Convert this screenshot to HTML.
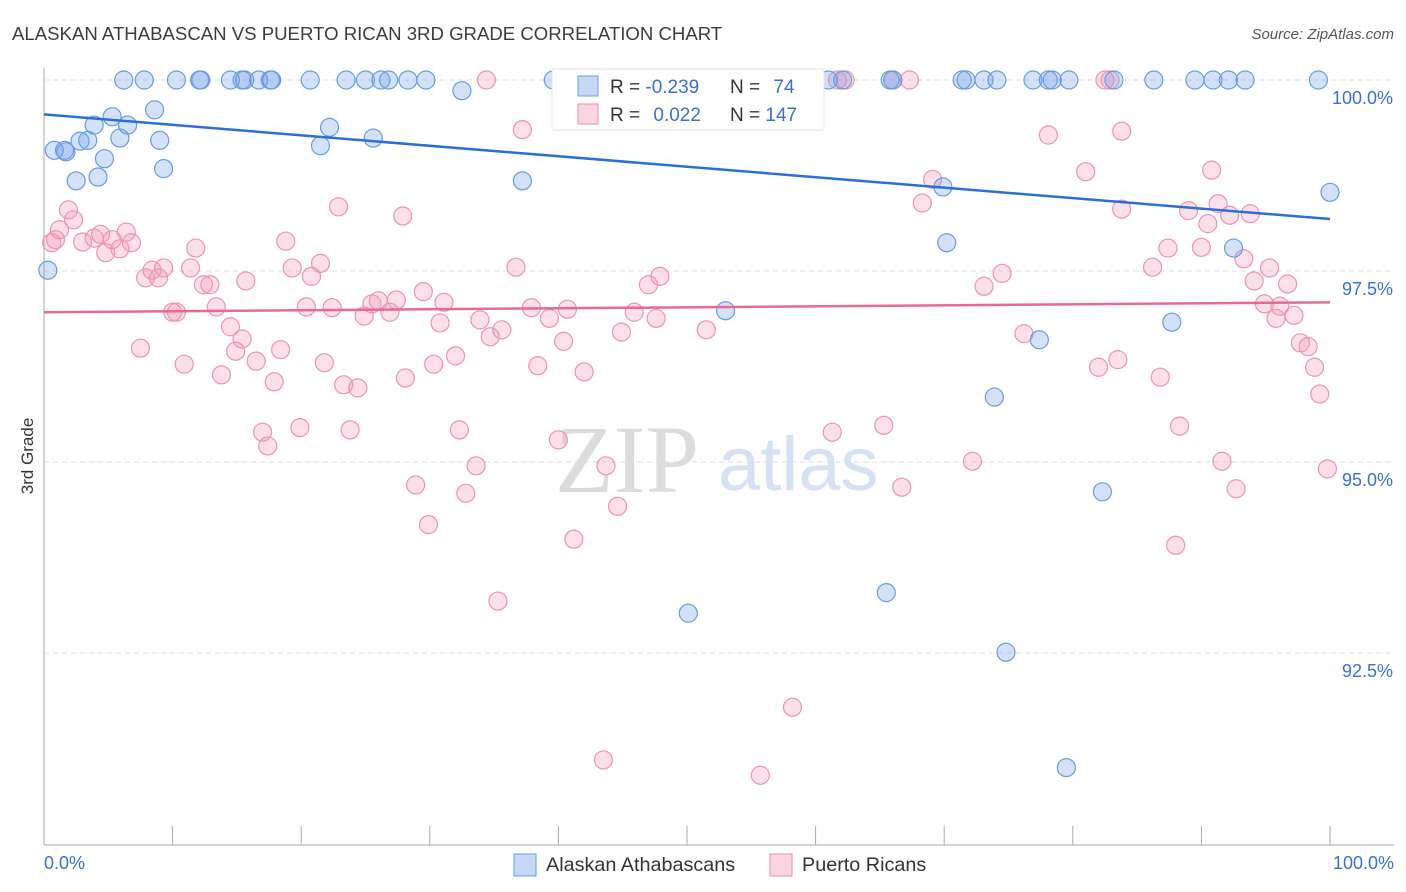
<!DOCTYPE html>
<html><head><meta charset="utf-8"><style>
html,body{margin:0;padding:0;background:#fff;}
svg{display:block;font-family:"Liberation Sans",sans-serif;}
</style></head><body>
<svg id="chart" width="1406" height="892" viewBox="0 0 1406 892">
<text x="12" y="40" font-size="18.6" fill="#3c3c3c">ALASKAN ATHABASCAN VS PUERTO RICAN 3RD GRADE CORRELATION CHART</text>
<text x="1394" y="39" font-size="15" fill="#555" font-style="italic" text-anchor="end">Source: ZipAtlas.com</text>
<text x="33" y="456" font-size="17" fill="#333" text-anchor="middle" transform="rotate(-90 33 456)">3rd Grade</text>
<g>
<text x="555" y="492" font-size="96" font-family="Liberation Serif,serif" fill="#dcdcdc">ZIP</text>
<text x="718" y="490" font-size="76" fill="#d6e2f3">atlas</text>
</g>
<g id="grid"></g>
<g id="axes"></g>
<g id="pts"></g>
<g id="trends"></g>
<g>
<rect x="552" y="69" width="272" height="61" rx="2" fill="#fff" stroke="#e2e2e2"/>
<rect x="578" y="76" width="20" height="20" fill="rgba(110,160,235,0.4)" stroke="#6a9be0"/>
<rect x="578" y="104" width="20" height="20" fill="rgba(245,150,180,0.4)" stroke="#e890b0"/>
<text x="610" y="93" font-size="19" fill="#333">R = <tspan fill="#3a6fd8">-0.239</tspan></text>
<text x="730" y="93" font-size="19" fill="#333">N = <tspan fill="#3a6fd8" dx="8">74</tspan></text>
<text x="610" y="121" font-size="19" fill="#333">R = <tspan fill="#3a6fd8" dx="8">0.022</tspan></text>
<text x="730" y="121" font-size="19" fill="#333">N = <tspan fill="#3a6fd8">147</tspan></text>
</g>
<g>
<rect x="514" y="854" width="22" height="22" fill="rgba(110,160,235,0.4)" stroke="#6a9be0"/>
<text x="546" y="871" font-size="19.8" fill="#333">Alaskan Athabascans</text>
<rect x="770" y="854" width="22" height="22" fill="rgba(245,150,180,0.4)" stroke="#e890b0"/>
<text x="802" y="871" font-size="19.8" fill="#333">Puerto Ricans</text>
</g>
</svg>
<script>
const yTicks=[100,97.5,95,92.5];
const yTickLabels=["100.0%","97.5%","95.0%","92.5%"];
const xTickVals=[0,10,20,30,40,50,60,70,80,90,100];
const xEndLabels=["0.0%","100.0%"];
const blueTopX=[6.2,7.8,10.3,12.1,12.2,14.5,15.4,15.6,16.7,17.6,17.7,20.7,23.5,25.0,26.2,26.8,28.3,29.7,39.6,41.2,48.4,61.0,62.1,65.8,66.0,71.4,71.7,73.1,74.1,76.9,78.1,78.4,79.7,83.2,86.3,89.5,90.9,92.1,93.4,99.1];
const blueOther=[[32.5,99.86],[8.6,99.61],[5.3,99.52],[3.9,99.41],[6.5,99.41],[22.2,99.38],[0.8,99.08],[1.7,99.06],[1.6,99.08],[2.8,99.2],[3.4,99.21],[5.9,99.24],[9.0,99.21],[4.7,98.97],[21.5,99.14],[25.6,99.24],[9.3,98.84],[4.2,98.73],[2.5,98.68],[37.2,98.68],[69.9,98.6],[100,98.53],[70.2,97.87],[92.5,97.8],[0.3,97.51],[53.0,96.98],[87.7,96.83],[77.4,96.6],[73.9,95.85],[82.3,94.61],[50.1,93.02],[65.5,93.29],[74.8,92.51],[79.5,91.0]];
const pinkTopX=[34.4,44.3,48.9,53.6,59.7,61.7,62.3,66.0,67.3,82.5,82.9];
const pinkOther=[[46.4,99.73],[37.2,99.35],[78.1,99.28],[83.8,99.33],[81.0,98.8],[90.8,98.82],[69.1,98.7],[68.3,98.39],[22.9,98.34],[27.9,98.22],[83.8,98.31],[89.0,98.29],[91.3,98.38],[92.2,98.23],[93.8,98.25],[90.5,98.12],[1.9,98.3],[2.3,98.17],[1.2,98.04],[0.6,97.87],[0.9,97.91],[3.0,97.88],[3.9,97.93],[4.4,97.98],[5.3,97.91],[5.9,97.79],[4.8,97.74],[6.4,98.01],[6.8,97.87],[11.8,97.8],[18.8,97.89],[8.4,97.51],[9.3,97.54],[11.4,97.54],[7.9,97.41],[8.9,97.41],[12.4,97.32],[12.9,97.32],[15.7,97.37],[19.3,97.54],[20.8,97.43],[21.5,97.6],[10.0,96.96],[10.3,96.96],[13.4,97.03],[20.4,97.03],[22.4,97.02],[24.9,96.91],[25.5,97.07],[26.0,97.11],[26.9,96.96],[27.4,97.12],[29.5,97.23],[31.1,97.09],[30.8,96.82],[33.9,96.86],[34.7,96.64],[35.6,96.73],[36.7,97.55],[37.9,97.02],[39.3,96.88],[40.7,97.0],[40.4,96.58],[42.0,96.18],[45.9,96.96],[47.0,97.32],[47.9,97.43],[47.6,96.88],[44.9,96.7],[51.5,96.73],[14.5,96.77],[15.4,96.61],[14.9,96.45],[18.4,96.47],[7.5,96.49],[10.9,96.28],[13.8,96.14],[16.5,96.32],[17.9,96.05],[21.8,96.3],[23.3,96.01],[24.4,95.97],[28.1,96.1],[30.3,96.28],[32.0,96.39],[38.4,96.26],[17.0,95.39],[17.4,95.21],[19.9,95.45],[23.8,95.42],[32.3,95.42],[40.0,95.29],[33.6,94.95],[28.9,94.7],[32.8,94.59],[43.7,94.95],[44.6,94.42],[29.9,94.18],[41.2,93.99],[35.3,93.18],[43.5,91.1],[55.7,90.9],[58.2,91.79],[61.3,95.39],[65.3,95.48],[66.7,94.67],[72.2,95.01],[74.5,97.47],[73.1,97.3],[76.2,96.68],[82.0,96.24],[83.5,96.34],[86.8,96.11],[88.3,95.47],[91.6,95.01],[92.7,94.65],[88.0,93.91],[86.2,97.55],[87.4,97.8],[90.0,97.81],[93.3,97.66],[94.1,97.37],[95.3,97.54],[94.9,97.07],[96.1,97.04],[95.8,96.88],[96.7,97.33],[97.2,96.92],[97.7,96.56],[98.3,96.51],[98.8,96.24],[99.2,95.89],[99.8,94.91]];
const blueTrend=[99.55,98.18];
const pinkTrend=[96.96,97.09];

const NS="http://www.w3.org/2000/svg";
const X0=44,X1=1330,Y100=80,PX_PER=76.4;
function sx(v){return X0+(v/100)*(X1-X0);}
function sy(v){return Y100+(100-v)*PX_PER;}
function mk(tag,attrs,parent){const e=document.createElementNS(NS,tag);for(const k in attrs)e.setAttribute(k,attrs[k]);parent.appendChild(e);return e;}
const grid=document.getElementById('grid'),axes=document.getElementById('axes'),pts=document.getElementById('pts'),tr=document.getElementById('trends');
yTicks.forEach((t,i)=>{
  const l=mk('line',{x1:X0,x2:1394,y1:sy(t),y2:sy(t),stroke:'#ddd','stroke-dasharray':'5,4'},grid);
  
  
  const tx=mk('text',{x:1393,y:sy(t)+24,'font-size':18,fill:'#3a6fd8','text-anchor':'end'},axes);
  tx.textContent=yTickLabels[i];
  
  
});
const va=mk('line',{x1:X0,x2:X0,y1:68,y2:845,stroke:'#aaa'},axes);


const ha=mk('line',{x1:X0,x2:1394,y1:845,y2:845,stroke:'#aaa'},axes);


xTickVals.forEach(v=>{
  const t=mk('line',{x1:sx(v),x2:sx(v),y1:826,y2:845,stroke:'#aaa'},axes);
  
  
});
const xl0=mk('text',{x:44,y:869,'font-size':18,fill:'#3a6fd8'},axes);xl0.textContent=xEndLabels[0];


const xl1=mk('text',{x:1394,y:869,'font-size':18,fill:'#3a6fd8','text-anchor':'end'},axes);xl1.textContent=xEndLabels[1];


function dot(x,y,cls){
  const c=mk('circle',{cx:sx(x),cy:sy(y),r:9,fill:cls==='b'?'rgba(110,160,235,0.3)':'rgba(245,150,180,0.3)',stroke:cls==='b'?'#6a9be0':'#ea95b5','stroke-width':1.2},pts);
  
  
}
pinkTopX.forEach(x=>dot(x,100,'p'));
pinkOther.forEach(p=>dot(p[0],p[1],'p'));
blueTopX.forEach(x=>dot(x,100,'b'));
blueOther.forEach(p=>dot(p[0],p[1],'b'));
const bl=mk('line',{x1:sx(0),x2:sx(100),y1:sy(blueTrend[0]),y2:sy(blueTrend[1]),stroke:'#2a6fd6','stroke-width':2.5},tr);


const pl=mk('line',{x1:sx(0),x2:sx(100),y1:sy(pinkTrend[0]),y2:sy(pinkTrend[1]),stroke:'#e8689a','stroke-width':2.5},tr);


</script>
</body></html>
